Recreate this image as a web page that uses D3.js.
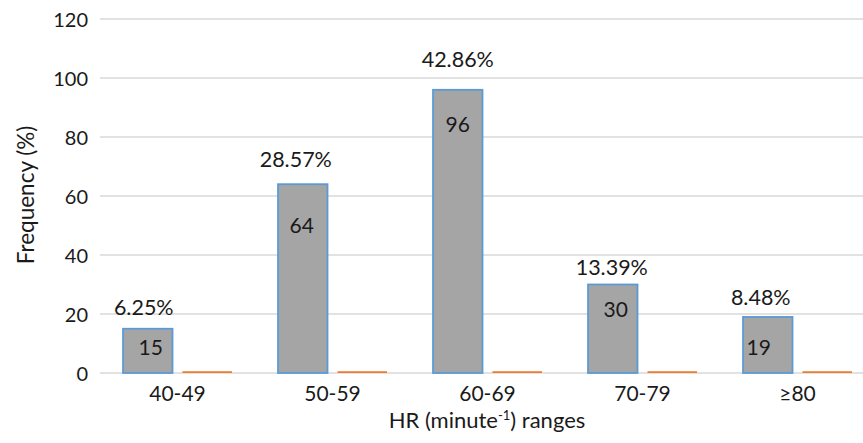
<!DOCTYPE html>
<html><head><meta charset="utf-8">
<script src="https://cdn.jsdelivr.net/npm/d3@7"></script>
<style>
html,body{margin:0;padding:0;background:#fff;}
svg{display:block;}
text{font-family:Lato,"Open Sans",sans-serif;fill:#1a1a1a;}
</style></head>
<body>
<svg id="chart" width="863" height="443"></svg>
<script>
// ---- data ----
const categories = ["40-49", "50-59", "60-69", "70-79", "\u226580"];
const countValues = [15, 64, 96, 30, 19];
const secondValues = [0.6, 0.6, 0.6, 0.6, 0.6];
const percentLabels = ["6.25%", "28.57%", "42.86%", "13.39%", "8.48%"];
const yTicks = [0, 20, 40, 60, 80, 100, 120];

// ---- layout (label nudges, pixels) ----
const pctNudge = [[-4, -14], [-7, -17], [0, -23], [-1, -10], [-7, -12]];
const inNudge = [[3, 26], [-1, 49], [0, 42], [3, 32], [-9, 38]];

const svg = d3.select("#chart");
const x0 = d3.scaleBand().domain(categories).range([100, 875]).paddingInner(0).paddingOuter(0);
const x1 = d3.scaleBand().domain(["count", "second"]).range([0, x0.bandwidth()])
  .paddingInner(0.168).paddingOuter(0.387);
const y = d3.scaleLinear().domain([0, 120]).range([373, 19]);

// gridlines
svg.append("g").selectAll("line").data(yTicks).join("line")
  .attr("x1", 100).attr("x2", 863)
  .attr("y1", d => y(d)).attr("y2", d => y(d))
  .attr("stroke", "#d9d9d9").attr("stroke-width", 1.5);

// y axis labels
const yAxis = d3.axisLeft(y).tickValues(yTicks).tickSize(0).tickPadding(0);
const gy = svg.append("g").attr("transform", "translate(88,0)").call(yAxis);
gy.select(".domain").remove();
gy.selectAll("text").style("font-size", "20px").style("font-family", "Lato").attr("fill", "#1a1a1a").attr("dy", "0.35em");

// x axis labels
const xAxis = d3.axisBottom(x0).tickSize(0).tickPadding(0);
const gx = svg.append("g").attr("transform", "translate(0,386)").call(xAxis);
gx.select(".domain").remove();
gx.selectAll("text").style("font-size", "21px").style("font-family", "Lato").attr("fill", "#1a1a1a").attr("dy", "0.71em");

const groups = svg.append("g").selectAll("g").data(categories).join("g")
  .attr("transform", d => `translate(${x0(d)},0)`);

// gray bars
groups.append("rect")
  .attr("x", x1("count")).attr("width", x1.bandwidth())
  .attr("y", (d, i) => y(countValues[i])).attr("height", (d, i) => y(0) - y(countValues[i]))
  .attr("fill", "#a5a5a5").attr("stroke", "#5b9bd5").attr("stroke-width", 1.8);

// orange bars
groups.append("rect")
  .attr("x", x1("second")).attr("width", x1.bandwidth())
  .attr("y", (d, i) => y(secondValues[i])).attr("height", (d, i) => y(0) - y(secondValues[i]))
  .attr("fill", "#ed7d31");

// inside labels
groups.append("text")
  .attr("x", (d, i) => x1("count") + x1.bandwidth() / 2 + inNudge[i][0])
  .attr("y", (d, i) => y(countValues[i]) + inNudge[i][1])
  .attr("text-anchor", "middle").style("font-size", "21px")
  .text((d, i) => countValues[i]);

// percent labels
groups.append("text")
  .attr("x", (d, i) => x1("count") + x1.bandwidth() / 2 + pctNudge[i][0])
  .attr("y", (d, i) => y(countValues[i]) + pctNudge[i][1])
  .attr("text-anchor", "middle").style("font-size", "21.5px")
  .text((d, i) => percentLabels[i]);

// axis titles
svg.append("text")
  .attr("transform", "translate(34,195) rotate(-90)")
  .attr("text-anchor", "middle").style("font-size", "22.5px")
  .text("Frequency (%)");

const xt = svg.append("text").attr("x", 487).attr("y", 428)
  .attr("text-anchor", "middle").style("font-size", "22px");
xt.append("tspan").text("HR (minute");
xt.append("tspan").attr("dy", -8).style("font-size", "13px").text("-1");
xt.append("tspan").attr("dy", 8).text(") ranges");
</script>
</body></html>
